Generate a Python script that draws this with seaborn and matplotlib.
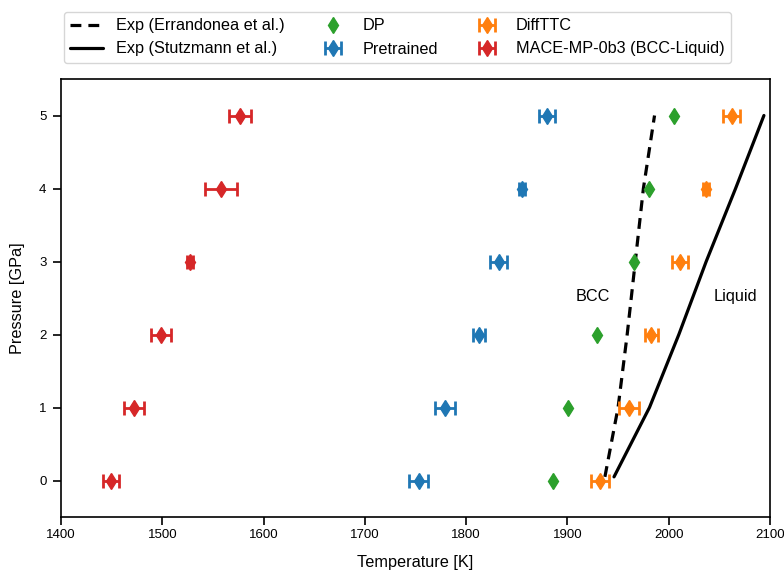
import matplotlib
matplotlib.use("Agg")
import matplotlib.pyplot as plt
import seaborn as sns
import pandas as pd

# Melting curve data
pressure = [0, 1, 2, 3, 4, 5]

dp_temp = [1886, 1901, 1929, 1966, 1981, 2005]

pre_temp = [1753, 1779, 1813, 1832, 1855, 1880]
pre_err = [9, 10, 6, 8, 3, 8]

diff_temp = [1932, 1961, 1983, 2011, 2037, 2062]
diff_err = [9, 10, 6, 8, 3, 8]

mace_temp = [1449, 1472, 1499, 1527, 1558, 1577]
mace_err = [8, 10, 10, 3, 16, 11]

erran_T = [1937, 1950, 1959, 1967, 1975, 1986]
erran_P = [0.05, 1, 2, 3, 4, 5]

stutz_T = [1946, 1981, 2010, 2037, 2066, 2094]
stutz_P = [0.05, 1, 2, 3, 4, 5]

sns.set_theme(style="ticks", rc={'text.color': 'black', 'axes.labelcolor': 'black',
                                 'xtick.color': 'black', 'ytick.color': 'black'})
plt.rcParams['font.family'] = ['Liberation Sans', 'DejaVu Sans']

FS = 11.7
pal = sns.color_palette("tab10")

fig = plt.figure(figsize=(7.84, 5.70), dpi=100)
ax = fig.add_axes([61 / 784, 1 - 517 / 570, 709 / 784, 438 / 570])

erran = pd.DataFrame({'T': erran_T, 'P': erran_P})
stutz = pd.DataFrame({'T': stutz_T, 'P': stutz_P})
sns.lineplot(data=erran, x='T', y='P', sort=False, color='black', lw=2.3,
             linestyle=(0, (3.4, 2.2)), label='Exp (Errandonea et al.)', ax=ax)
sns.lineplot(data=stutz, x='T', y='P', sort=False, color='black', lw=2.3,
             label='Exp (Stutzmann et al.)', ax=ax)

ekw = dict(fmt='d', markersize=8, capsize=5, elinewidth=2, capthick=2)
ax.errorbar(dp_temp, pressure, fmt='d', markersize=8, color=pal[2], label='DP')
ax.errorbar(pre_temp, pressure, xerr=pre_err, color=pal[0], label='Pretrained', **ekw)
ax.errorbar(diff_temp, pressure, xerr=diff_err, color=pal[1], label='DiffTTC', **ekw)
ax.errorbar(mace_temp, pressure, xerr=mace_err, color=pal[3],
            label='MACE-MP-0b3 (BCC-Liquid)', **ekw)

ax.text(1925, 2.52, 'BCC', ha='center', va='center', fontsize=FS)
ax.text(2066, 2.52, 'Liquid', ha='center', va='center', fontsize=FS)

ax.set_xlim(1400, 2100)
ax.set_ylim(-0.5, 5.5)
ax.set_xticks(range(1400, 2101, 100))
ax.set_yticks(pressure)
ax.set_xlabel('Temperature [K]', fontsize=FS, labelpad=10)
ax.set_ylabel('Pressure [GPa]', fontsize=FS, labelpad=10)
for s in ax.spines.values():
    s.set_linewidth(1.2)
    s.set_color('black')
ax.tick_params(width=1.2, length=5.5, color='black', labelsize=9.5)
ax.tick_params(axis='x', pad=3)
ax.tick_params(axis='y', pad=5)

handles, labels = ax.get_legend_handles_labels()
ax.legend(handles, labels, ncol=3, loc='lower center',
          bbox_to_anchor=(397.5 / 784, 1 - 63 / 570),
          bbox_transform=fig.transFigure, fontsize=FS,
          frameon=True, borderaxespad=0)

fig.savefig('out.png', dpi=100)
